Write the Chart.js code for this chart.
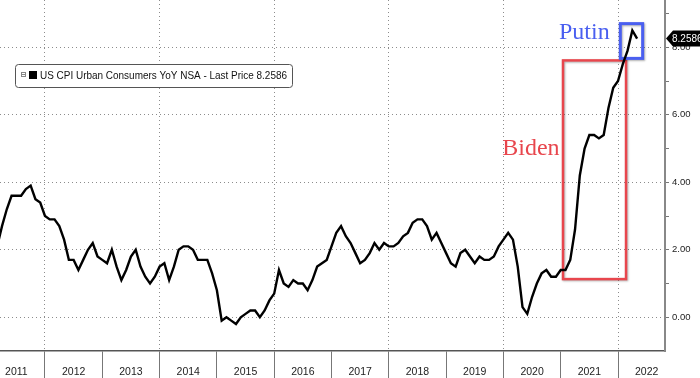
<!DOCTYPE html>
<html>
<head>
<meta charset="utf-8">
<script src="https://cdn.jsdelivr.net/npm/chart.js@4.4.1/dist/chart.umd.min.js"></script>
<style>
  html, body { margin: 0; padding: 0; background: #fff; }
  #wrap { width: 700px; height: 378px; }
</style>
</head>
<body>
<div id="wrap"><canvas id="cpiChart"></canvas></div>
<script>
// US CPI YoY, one value per month (Jan..Dec)
const years = [2011, 2012, 2013, 2014, 2015, 2016, 2017, 2018, 2019, 2020, 2021, 2022];
const cpi2011 = [1.6, 2.1, 2.7, 3.2, 3.6, 3.6, 3.6, 3.8, 3.9, 3.5, 3.4, 3.0];
const cpi2012 = [2.9, 2.9, 2.7, 2.3, 1.7, 1.7, 1.4, 1.7, 2.0, 2.2, 1.8, 1.7];
const cpi2013 = [1.6, 2.0, 1.5, 1.1, 1.4, 1.8, 2.0, 1.5, 1.2, 1.0, 1.2, 1.5];
const cpi2014 = [1.6, 1.1, 1.5, 2.0, 2.1, 2.1, 2.0, 1.7, 1.7, 1.7, 1.3, 0.8];
const cpi2015 = [-0.1, 0.0, -0.1, -0.2, 0.0, 0.1, 0.2, 0.2, 0.0, 0.2, 0.5, 0.7];
const cpi2016 = [1.4, 1.0, 0.9, 1.1, 1.0, 1.0, 0.8, 1.1, 1.5, 1.6, 1.7, 2.1];
const cpi2017 = [2.5, 2.7, 2.4, 2.2, 1.9, 1.6, 1.7, 1.9, 2.2, 2.0, 2.2, 2.1];
const cpi2018 = [2.1, 2.2, 2.4, 2.5, 2.8, 2.9, 2.9, 2.7, 2.3, 2.5, 2.2, 1.9];
const cpi2019 = [1.6, 1.5, 1.9, 2.0, 1.8, 1.6, 1.8, 1.7, 1.7, 1.8, 2.1, 2.3];
const cpi2020 = [2.5, 2.3, 1.5, 0.3, 0.1, 0.6, 1.0, 1.3, 1.4, 1.2, 1.2, 1.4];
const cpi2021 = [1.4, 1.7, 2.6, 4.2, 5.0, 5.4, 5.4, 5.3, 5.4, 6.2, 6.8, 7.0];
const cpi2022 = [7.5, 7.9, 8.5, 8.2586];

const yTickValues = [0, 1, 2, 3, 4, 5, 6, 7, 8, 9];
const lastPrice = 8.2586;
const legendText = 'US CPI Urban Consumers YoY NSA - Last Price 8.2586';

const byYear = [cpi2011, cpi2012, cpi2013, cpi2014, cpi2015, cpi2016,
                cpi2017, cpi2018, cpi2019, cpi2020, cpi2021, cpi2022];

const points = [];
byYear.forEach((vals, i) => {
    vals.forEach((v, m) => points.push({ x: years[i] + (m + 1) / 12, y: v }));
});

const transparent = 'rgba(0,0,0,0)';

const noPad = s => {
    s.paddingTop = 0; s.paddingBottom = 0;
    s.paddingLeft = 0; s.paddingRight = 0;
};

const overlay = {
    id: 'overlay',
    beforeDatasetsDraw(chart) {
        const { ctx, scales: { x, y } } = chart;
        ctx.save();
        // Biden box
        ctx.shadowColor = 'rgba(0,0,0,0.3)';
        ctx.shadowBlur = 2;
        ctx.shadowOffsetX = 1;
        ctx.shadowOffsetY = 1;
        ctx.strokeStyle = '#e8464d';
        ctx.lineWidth = 2.5;
        const bx1 = x.getPixelForValue(2021.04), bx2 = x.getPixelForValue(2022.14);
        const by1 = y.getPixelForValue(7.61), by2 = y.getPixelForValue(1.13);
        ctx.strokeRect(bx1, by1, bx2 - bx1, by2 - by1);
        // Putin box
        ctx.strokeStyle = '#4a5ff0';
        ctx.lineWidth = 3;
        const px1 = x.getPixelForValue(2022.04), px2 = x.getPixelForValue(2022.43);
        const py1 = y.getPixelForValue(8.7), py2 = y.getPixelForValue(7.67);
        ctx.strokeRect(px1, py1, px2 - px1, py2 - py1);
        ctx.shadowColor = transparent;

        ctx.font = '24px "Liberation Serif", serif';
        ctx.textBaseline = 'alphabetic';
        ctx.textAlign = 'left';
        ctx.fillStyle = '#e8464d';
        ctx.fillText('Biden', x.getPixelForValue(2019.98), y.getPixelForValue(4.8));
        ctx.fillStyle = '#4a5ff0';
        ctx.fillText('Putin', x.getPixelForValue(2020.97), y.getPixelForValue(8.25));
        ctx.restore();
    },
    afterDatasetsDraw(chart) {
        const { ctx, scales: { y } } = chart;
        ctx.save();
        // legend box
        ctx.fillStyle = '#fff';
        ctx.strokeStyle = '#555';
        ctx.lineWidth = 1;
        ctx.beginPath();
        ctx.roundRect(15.5, 64.5, 277, 23, 3);
        ctx.fill();
        ctx.stroke();
        ctx.strokeStyle = '#888';
        ctx.strokeRect(21.5, 72.5, 4, 4);
        ctx.beginPath();
        ctx.moveTo(22, 74.5); ctx.lineTo(25, 74.5); ctx.stroke();
        ctx.fillStyle = '#000';
        ctx.fillRect(29, 71, 8, 8);
        ctx.fillStyle = '#111';
        ctx.font = '11px "Liberation Sans", sans-serif';
        ctx.textBaseline = 'middle';
        ctx.fillText(legendText, 40, 76, 247);

        // last price tag
        const ty = y.getPixelForValue(lastPrice);
        ctx.fillStyle = '#000';
        ctx.beginPath();
        ctx.moveTo(666, ty);
        ctx.lineTo(673, ty - 8);
        ctx.lineTo(700, ty - 8);
        ctx.lineTo(700, ty + 8);
        ctx.lineTo(673, ty + 8);
        ctx.closePath();
        ctx.fill();
        ctx.fillStyle = '#fff';
        ctx.font = '10px "Liberation Sans", sans-serif';
        ctx.textAlign = 'left';
        ctx.fillText('8.2586', 672, ty + 0.5);
        ctx.restore();
    }
};

const el = document.getElementById('cpiChart');
new Chart(el.getContext('2d'), {
    type: 'line',
    data: {
        datasets: [{
            label: 'US CPI Urban Consumers YoY NSA',
            data: points,
            borderColor: '#000',
            borderWidth: 2.4,
            pointRadius: 0,
            tension: 0
        }]
    },
    options: {
        responsive: true,
        maintainAspectRatio: false,
        animation: false,
        layout: { padding: 0 },
        plugins: {
            legend: { display: false },
            tooltip: { enabled: false }
        },
        scales: {
            x: {
                type: 'linear',
                position: 'bottom',
                min: 2011.215,
                max: 2022.82,
                afterBuildTicks: s => { s.ticks = years.map(v => ({ value: v + 0.5 })); },
                afterFit: s => { s.height = 27; noPad(s); },
                ticks: {
                    callback: v => String(Math.floor(v)),
                    color: '#222',
                    font: { family: 'Liberation Sans', size: 10.5 },
                    padding: -12,
                    maxRotation: 0,
                    autoSkip: false
                },
                grid: {
                    offset: true,
                    color: c => (c.index % 2 === 1 ? '#8c8c8c' : transparent),
                    lineWidth: 1,
                    tickColor: '#777',
                    tickLength: 27,
                    tickBorderDash: []
                },
                border: { color: '#555', width: 1.5, dash: [1, 3] }
            },
            y: {
                type: 'linear',
                position: 'right',
                min: -1,
                max: 9.4,
                afterBuildTicks: s => { s.ticks = yTickValues.map(v => ({ value: v })); },
                afterFit: s => { s.width = 35; noPad(s); },
                ticks: {
                    callback: v => (v % 2 === 0 ? v.toFixed(2) : ''),
                    color: '#222',
                    font: { family: 'Liberation Sans', size: 9.5 },
                    padding: 3
                },
                grid: {
                    color: c => (c.tick && c.tick.value % 2 === 0 ? '#8c8c8c' : transparent),
                    tickColor: '#777',
                    tickLength: 4,
                    tickBorderDash: []
                },
                border: { color: '#888', width: 2, dash: [1, 3] }
            }
        }
    },
    plugins: [overlay]
});
</script>
</body>
</html>
